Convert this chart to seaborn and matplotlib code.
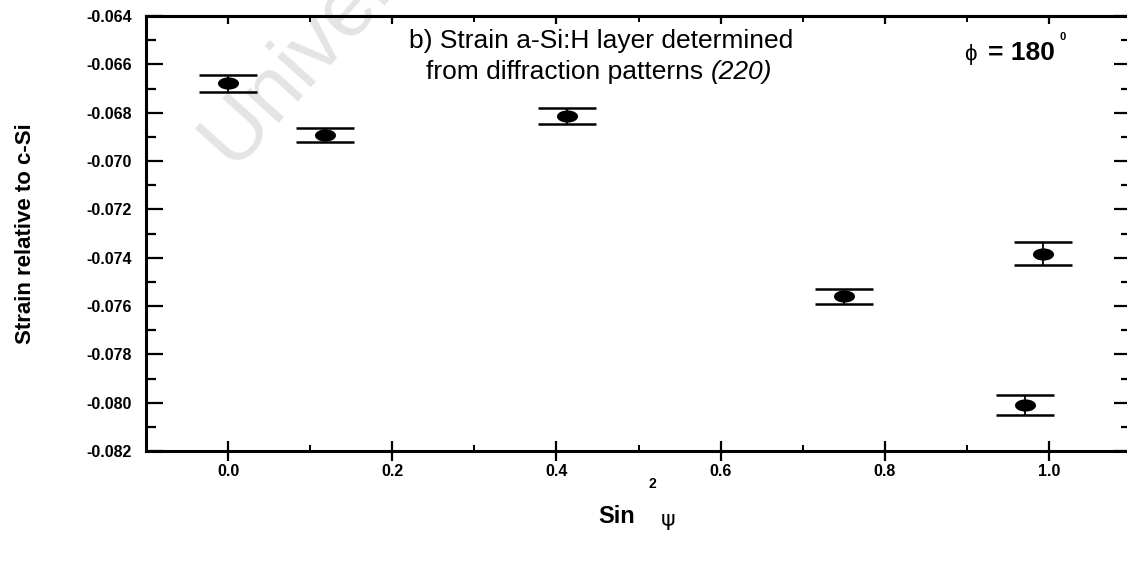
import numpy as np
import pandas as pd
import seaborn as sns
import matplotlib.pyplot as plt
from matplotlib.path import Path
from matplotlib.transforms import Affine2D
from matplotlib.ticker import MultipleLocator, FormatStrFormatter

# values
sin2psi = [0.0, 0.118, 0.413, 0.750, 0.971, 0.993]
strain = [-0.06679, -0.06893, -0.06813, -0.07560, -0.08011, -0.07383]
strain_err = [0.00034, 0.00028, 0.00034, 0.00030, 0.00041, 0.00048]

x_ticks = [0.0, 0.2, 0.4, 0.6, 0.8, 1.0]
y_ticks = [-0.064, -0.066, -0.068, -0.070, -0.072, -0.074, -0.076, -0.078, -0.080, -0.082]

sns.set_style("ticks")
plt.rcParams["font.family"] = ["Liberation Sans", "DejaVu Sans"]
for key in ["text.color", "axes.labelcolor", "xtick.color", "ytick.color", "axes.edgecolor"]:
    plt.rcParams[key] = "black"

df = pd.DataFrame({"sin2psi": sin2psi, "strain": strain, "err": strain_err})

fig = plt.figure(figsize=(11.27, 5.82), dpi=100)
ax = fig.add_axes([146 / 1127, 131 / 582, 985 / 1127, 435 / 582])
ax.patch.set_facecolor("none")

# faint watermark of the scanned page
fig.text(232 / 1127, 414 / 582, "University", fontsize=62, color="#e4e4e4",
         rotation=48, rotation_mode="anchor", ha="left", va="baseline", zorder=-5)

ax.errorbar(df["sin2psi"], df["strain"], yerr=df["err"], fmt="none",
            ecolor="black", elinewidth=1.3, capsize=21, capthick=1.8, zorder=2)

ellipse = Path.unit_circle().transformed(Affine2D().scale(1.0, 0.58))
sns.scatterplot(data=df, x="sin2psi", y="strain", marker=ellipse, s=230,
                color="black", edgecolor="black", linewidth=0, ax=ax, zorder=3)

ax.set_xlim(-0.1, 1.1)
ax.set_ylim(-0.082, -0.064)
ax.set_xticks(x_ticks)
ax.set_yticks(y_ticks)
ax.xaxis.set_minor_locator(MultipleLocator(0.1))
ax.yaxis.set_minor_locator(MultipleLocator(0.001))
ax.xaxis.set_major_formatter(FormatStrFormatter("%.1f"))
ax.yaxis.set_major_formatter(FormatStrFormatter("%.3f"))

for side in ["left", "bottom", "top", "right"]:
    ax.spines[side].set_linewidth(2.2)
    ax.spines[side].set_visible(True)

ax.tick_params(axis="y", which="major", direction="in", length=12, width=1.6,
               left=True, right=True, labelsize=11.5, pad=10)
ax.tick_params(axis="y", which="minor", direction="in", length=7, width=1.6,
               left=True, right=True)
ax.tick_params(axis="x", which="major", direction="inout", length=14, width=1.6,
               labelsize=11.5, pad=2)
ax.tick_params(axis="x", which="minor", direction="in", length=4, width=1.4)
for lab in ax.get_xticklabels() + ax.get_yticklabels():
    lab.set_fontweight("bold")

top = ax.secondary_xaxis("top")
top.set_xticks(x_ticks)
top.xaxis.set_minor_locator(MultipleLocator(0.1))
top.tick_params(axis="x", which="major", direction="in", length=6, width=1.6, labeltop=False)
top.tick_params(axis="x", which="minor", direction="in", length=4, width=1.4)
top.spines["top"].set_linewidth(2.2)

ax.set_ylabel("Strain relative to c-Si", fontsize=16, fontweight="bold")
ax.yaxis.set_label_coords(-0.112, 0.5)

# x label: bold "Sin", a raised "2", then an upright psi
ax.set_xlabel("Sin", fontsize=17, fontweight="bold")
ax.xaxis.set_label_coords(0.478, -0.125)
fig.text(652 / 1127, (582 - 484) / 582, "2", fontsize=10, fontweight="bold",
         ha="center", va="center")
fig.text(668 / 1127, (582 - 526) / 582, "\u03c8", fontsize=16,
         ha="center", va="baseline", family=["DejaVu Sans"])

# panel title
ax.text(0.454, -0.06452, "b) Strain a-Si:H layer determined",
        fontsize=19, ha="center", va="top")
line2 = ax.text(0.41, -0.06584, "from diffraction patterns",
                fontsize=19, ha="center", va="top")
fig.canvas.draw()
r = fig.canvas.get_renderer()
bb = line2.get_window_extent(r)
ax.text(bb.x1 + 8, bb.y1, "(220)", transform=None, fontsize=19, style="italic",
        ha="left", va="top")

# phi = 180 degrees
ax.text(0.8965, -0.06582, "\u03d5", fontsize=16, ha="left", va="baseline")
deg = ax.text(0.9255, -0.06582, "= 180", fontsize=19, fontweight="bold",
              ha="left", va="baseline")
bb = deg.get_window_extent(r)
ax.text(bb.x1 + 5, bb.y1 + 4, "0", transform=None, fontsize=8, fontweight="bold",
        ha="left", va="center")

fig.savefig("out.png", dpi=100)
